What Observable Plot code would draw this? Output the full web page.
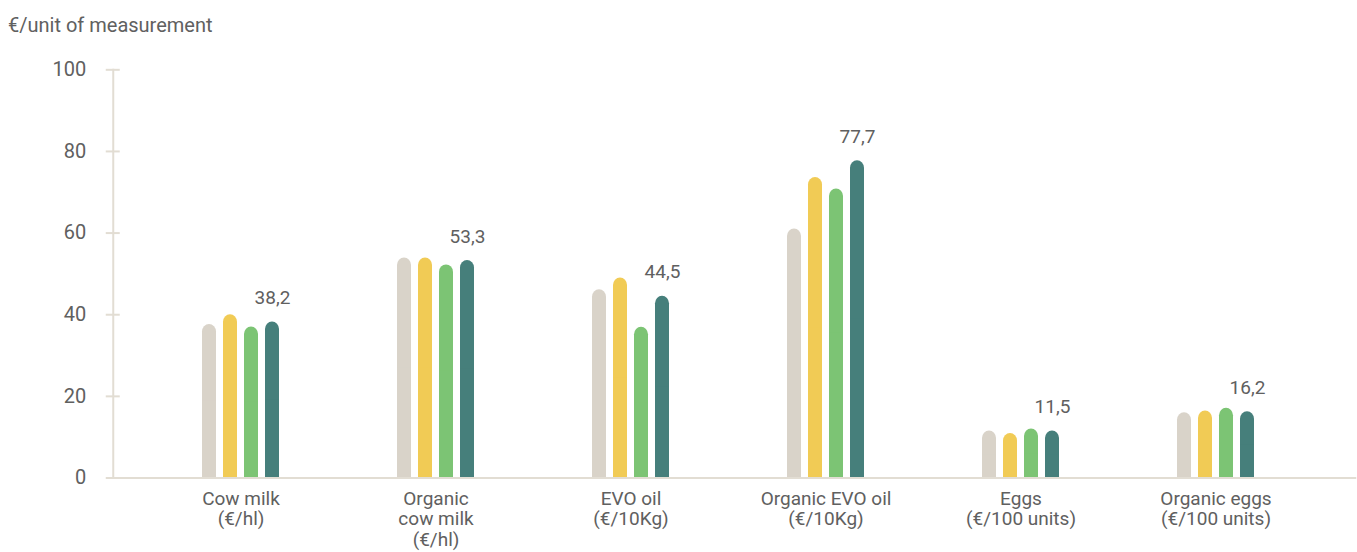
<!DOCTYPE html>
<html>
<head>
<meta charset="utf-8">
<script src="https://cdn.jsdelivr.net/npm/d3@7"></script>
<script src="https://cdn.jsdelivr.net/npm/@observablehq/plot@0.6"></script>
<style>
  html, body { margin: 0; padding: 0; background: #ffffff; }
  #title {
    font-family: Roboto, sans-serif;
    font-size: 20px;
    color: #606060;
    height: 48px;
    line-height: 46px;
    padding-top: 2px;
    box-sizing: border-box;
    padding-left: 8px;
  }
</style>
</head>
<body>
<div id="title">€/unit of measurement</div>
<div id="chart"></div>
<script>
// Product categories (with their unit of measurement)
const categories = [
  "Cow milk\n(€/hl)",
  "Organic\ncow milk\n(€/hl)",
  "EVO oil\n(€/10Kg)",
  "Organic EVO oil\n(€/10Kg)",
  "Eggs\n(€/100 units)",
  "Organic eggs\n(€/100 units)"
];

// Four price series per product, drawn left to right
const seriesKeys = ["s1", "s2", "s3", "s4"];
const series1 = [37.6, 53.9, 46.1, 61.0, 11.5, 16.0];
const series2 = [40.0, 53.9, 49.0, 73.6, 10.9, 16.4];
const series3 = [37.0, 52.2, 36.9, 70.8, 12.0, 17.1];
const series4 = [38.2, 53.3, 44.5, 77.7, 11.5, 16.2];

const yTicks = [0, 20, 40, 60, 80, 100];

const palette = ["#d9d3c9", "#f1cb55", "#7cc474", "#467f7b"];
const axisColor = "#e2ddd3";
const textColor = "#606060";

const allSeries = [series1, series2, series3, series4];
const data = categories.flatMap((category, i) =>
  seriesKeys.map((key, j) => ({category, series: key, value: allSeries[j][i]}))
);
const labelled = data.filter(d => d.series === seriesKeys[seriesKeys.length - 1]);

const chart = Plot.plot({
  width: 1357,
  height: 504,
  marginTop: 21.3,
  marginBottom: 74.5,
  marginLeft: 111,
  marginRight: 2,
  style: {fontFamily: "Roboto, sans-serif", fontSize: "19px", color: textColor, background: "#ffffff"},
  fx: {domain: categories, paddingInner: 0, paddingOuter: 0.1816, align: 0.426, label: null},
  x: {domain: seriesKeys, paddingInner: 0.318, paddingOuter: 2.602, axis: null},
  y: {domain: [0, 100], axis: null},
  color: {domain: seriesKeys, range: palette},
  marks: [
    // rounded-top bars: a fully rounded rect plus a square lower half
    Plot.barY(data, {fx: "category", x: "series", y: "value", fill: "series", rx: 7.5}),
    Plot.barY(data, {fx: "category", x: "series", y1: 0, y2: d => d.value / 2, fill: "series"}),
    // baseline and vertical axis line, stretched from the facet span out to the margins
    Plot.frame({facet: "super", anchor: "bottom", insetLeft: -30.25, insetRight: -41.75, stroke: axisColor, strokeWidth: 2}),
    Plot.frame({facet: "super", anchor: "left", insetLeft: -30.25, stroke: axisColor, strokeWidth: 2}),
    // y ticks cross the axis line; the axis sits in the first facet, so shift it back
    Plot.axisY({
      ticks: yTicks,
      tickSize: 14,
      dx: -23.25,
      tickPadding: 20,
      stroke: axisColor,
      strokeWidth: 2,
      strokeOpacity: 1,
      fill: textColor,
      fontSize: 20,
      tickFormat: d => String(d),
      label: null
    }),
    Plot.axisFx({
      anchor: "bottom",
      tickSize: 0,
      tickPadding: 12,
      lineHeight: 1.09,
      fill: textColor,
      label: null
    }),
    // value of the last series above its bar
    Plot.text(labelled, {
      fx: "category",
      x: "series",
      y: "value",
      text: d => d.value.toFixed(1).replace(".", ","),
      dy: -24,
      fill: textColor,
      fontSize: 19
    })
  ]
});

document.getElementById("chart").appendChild(chart);
</script>
</body>
</html>
